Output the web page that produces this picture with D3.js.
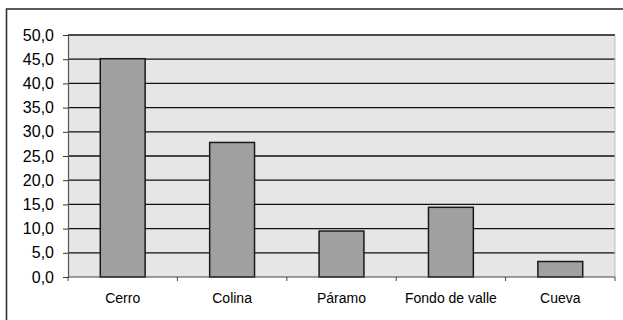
<!DOCTYPE html>
<html>
<head>
<meta charset="utf-8">
<script src="https://cdn.jsdelivr.net/npm/d3@7"></script>
<style>
  html, body { margin: 0; padding: 0; background: #fff; }
  svg { display: block; }
  text { font-family: "Liberation Sans", Arial, sans-serif; fill: #000; }
</style>
</head>
<body>
<svg id="chart" width="623" height="320"></svg>
<script>
// Share of sites by landform (%)
const categories = ["Cerro", "Colina", "Páramo", "Fondo de valle", "Cueva"];
const values = [45.1, 27.8, 9.5, 14.4, 3.2];
const yTicks = [0, 5, 10, 15, 20, 25, 30, 35, 40, 45, 50];

const svg = d3.select("#chart");
const W = 623, H = 320;
const plot = { left: 68, right: 615, top: 35, bottom: 277 };

// Outer frame (extends past the right and bottom edges)
svg.append("rect")
  .attr("x", 6.5).attr("y", 9)
  .attr("width", W + 10).attr("height", H + 10)
  .attr("fill", "none").attr("stroke", "#333").attr("stroke-width", 1.6);

const x = d3.scaleBand().domain(categories)
  .range([plot.left, plot.right]).paddingInner(0.59).paddingOuter(0.295);
const y = d3.scaleLinear().domain([0, 50]).range([plot.bottom, plot.top]);

// Plot background
svg.append("rect")
  .attr("x", plot.left).attr("y", plot.top)
  .attr("width", plot.right - plot.left).attr("height", plot.bottom - plot.top)
  .attr("fill", "#e5e6e7");

// Gridlines
svg.append("g").selectAll("line").data(yTicks.filter(d => d > 0)).join("line")
  .attr("x1", plot.left).attr("x2", plot.right)
  .attr("y1", d => y(d)).attr("y2", d => y(d))
  .attr("stroke", "#111").attr("stroke-width", 1.3);

// Right edge of plot area
svg.append("line")
  .attr("x1", plot.right).attr("x2", plot.right)
  .attr("y1", plot.top).attr("y2", plot.bottom)
  .attr("stroke", "#bbb").attr("stroke-width", 1);

// Bars
svg.append("g").selectAll("rect").data(values).join("rect")
  .attr("x", (d, i) => x(categories[i]))
  .attr("y", d => y(d))
  .attr("width", x.bandwidth())
  .attr("height", d => y(0) - y(d))
  .attr("fill", "#a0a0a0")
  .attr("stroke", "#1a1a1a").attr("stroke-width", 1.5);

// Y axis
const yAxis = d3.axisLeft(y).tickValues(yTicks).tickSize(5).tickPadding(9)
  .tickFormat(d => d3.format(".1f")(d).replace(".", ","));
const gy = svg.append("g").attr("transform", `translate(${plot.left},0)`).call(yAxis);
gy.attr("font-size", null).attr("font-family", null);
gy.select(".domain").attr("stroke", "#555").attr("stroke-width", 1.2);
gy.selectAll(".tick line").attr("stroke", "#333");
gy.selectAll(".tick text").style("font-size", "16px")
  .style("font-family", "'Liberation Sans', Arial, sans-serif").attr("fill", "#000");

// X axis baseline with ticks at category boundaries
const step = x.step();
const boundaries = d3.range(categories.length + 1).map(i => plot.left + i * step);
svg.append("line")
  .attr("x1", plot.left).attr("x2", plot.right)
  .attr("y1", plot.bottom).attr("y2", plot.bottom)
  .attr("stroke", "#444").attr("stroke-width", 1.2);
svg.append("g").selectAll("line").data(boundaries).join("line")
  .attr("x1", d => d).attr("x2", d => d)
  .attr("y1", plot.bottom).attr("y2", plot.bottom + 4)
  .attr("stroke", "#444");

// Category labels
svg.append("g").selectAll("text").data(categories).join("text")
  .attr("x", d => x(d) + x.bandwidth() / 2)
  .attr("y", 303)
  .attr("text-anchor", "middle")
  .style("font-size", "14px")
  .text(d => d);
</script>
</body>
</html>
